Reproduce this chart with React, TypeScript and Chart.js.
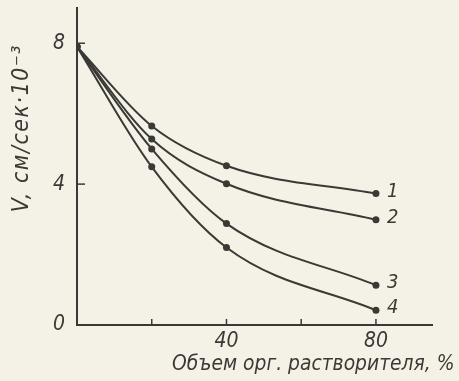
import React, { useEffect, useRef } from 'react';
import { Chart, registerables } from 'chart.js';

Chart.register(...registerables);

const xValues = [0, 20, 40, 80];
const series1 = [7.9, 5.65, 4.52, 3.73];
const series2 = [7.9, 5.28, 4.01, 2.99];
const series3 = [7.9, 5.0, 2.88, 1.13];
const series4 = [7.9, 4.49, 2.2, 0.42];
const seriesNames = ['1', '2', '3', '4'];
const xTickValues = [20, 40, 60, 80];
const xTickLabels = ['', '40', '', '80'];
const yTickValues = [0, 4, 8];
const yTickLabels = ['0', '4', '8'];
const xTitle = 'Объем орг. растворителя, %';
const yTitle = 'V, см/сек·10⁻³';

const INK = '#3b3936';
const BG = '#f4f2e7';
const FAMILY = "'DejaVu Sans Condensed', 'DejaVu Sans', sans-serif";

const decor = {
  id: 'decor',
  beforeDraw(chart: any) {
    const ctx = chart.ctx;
    ctx.save();
    ctx.fillStyle = BG;
    ctx.fillRect(0, 0, chart.width, chart.height);
    ctx.restore();
  },
  afterDraw(chart: any) {
    const ctx = chart.ctx;
    const xs = chart.scales.x;
    const ys = chart.scales.y;
    ctx.save();
    ctx.strokeStyle = INK;
    ctx.lineWidth = 1.5;
    xTickValues.forEach((v) => {
      const px = xs.getPixelForValue(v);
      ctx.beginPath();
      ctx.moveTo(px, ys.bottom);
      ctx.lineTo(px, ys.bottom - 6);
      ctx.stroke();
    });
    yTickValues.filter((v) => v > 0).forEach((v) => {
      const py = ys.getPixelForValue(v);
      ctx.beginPath();
      ctx.moveTo(xs.left, py);
      ctx.lineTo(xs.left + 8, py);
      ctx.stroke();
    });
    ctx.fillStyle = INK;
    ctx.font = `italic 20px ${FAMILY}`;
    ctx.textAlign = 'left';
    ctx.textBaseline = 'middle';
    chart.data.datasets.forEach((_ds: any, i: number) => {
      const meta = chart.getDatasetMeta(i);
      const last = meta.data[meta.data.length - 1];
      ctx.fillText(seriesNames[i], last.x + 11, last.y - 2);
    });
    // x title
    ctx.font = `italic 19px ${FAMILY}`;
    const w = ctx.measureText(xTitle).width;
    const size = 19 * 283 / w;
    ctx.font = `italic ${size.toFixed(1)}px ${FAMILY}`;
    ctx.textAlign = 'left';
    ctx.textBaseline = 'middle';
    ctx.fillText(xTitle, 172, 365);
    // y title
    ctx.translate(22, 128);
    ctx.rotate(-Math.PI / 2);
    ctx.font = `italic 23px ${FAMILY}`;
    (ctx as any).letterSpacing = '1.5px';
    ctx.textAlign = 'center';
    ctx.textBaseline = 'middle';
    ctx.fillText(yTitle, 0, 0);
    ctx.restore();
  },
};

export default function App() {
  const ref = useRef<HTMLCanvasElement>(null);
  useEffect(() => {
    const all = [series1, series2, series3, series4];
    const chart = new Chart(ref.current as HTMLCanvasElement, {
      type: 'line',
      data: {
        datasets: all.map((s, i) => ({
          label: seriesNames[i],
          data: s.map((y, j) => ({ x: xValues[j], y })),
          borderColor: INK,
          backgroundColor: INK,
          borderWidth: 2,
          pointRadius: 3.5,
          pointBackgroundColor: INK,
          pointBorderWidth: 0,
          cubicInterpolationMode: 'monotone' as const,
          fill: false,
        })),
      },
      options: {
        responsive: false,
        animation: false,
        devicePixelRatio: 1,
        layout: { padding: { left: 0, right: 27, top: 8, bottom: 0 } },
        plugins: { legend: { display: false }, tooltip: { enabled: false } },
        scales: {
          x: {
            type: 'linear',
            min: 0,
            max: 95,
            afterBuildTicks: (s: any) => {
              s.ticks = xTickValues.map((v) => ({ value: v }));
            },
            afterFit: (s: any) => {
              s.height = 56;
              s.paddingLeft = 0;
              s.paddingRight = 0;
            },
            ticks: {
              autoSkip: false,
              maxRotation: 0,
              padding: 4,
              color: INK,
              font: { size: 21, style: 'italic', family: FAMILY },
              callback: (v: any) => {
                const k = xTickValues.indexOf(Number(v));
                return k >= 0 ? xTickLabels[k] : '';
              },
            },
            grid: { display: false, drawTicks: false },
            border: { display: true, color: INK, width: 2 },
          },
          y: {
            type: 'linear',
            min: 0,
            max: 9,
            afterBuildTicks: (s: any) => {
              s.ticks = yTickValues.map((v) => ({ value: v }));
            },
            afterFit: (s: any) => {
              s.width = 77;
              s.paddingTop = 0;
              s.paddingBottom = 0;
            },
            ticks: {
              autoSkip: false,
              padding: 12,
              color: INK,
              font: { size: 21, style: 'italic', family: FAMILY },
              callback: (v: any) => {
                const k = yTickValues.indexOf(Number(v));
                return k >= 0 ? yTickLabels[k] : '';
              },
            },
            grid: { display: false, drawTicks: false },
            border: { display: true, color: INK, width: 2 },
          },
        },
      },
      plugins: [decor],
    });
    return () => chart.destroy();
  }, []);
  return (
    <div style={{ position: 'fixed', left: 0, top: 0, width: 459, height: 381, background: BG }}>
      <canvas ref={ref} width={459} height={381} style={{ display: 'block', width: 459, height: 381 }} />
    </div>
  );
}
